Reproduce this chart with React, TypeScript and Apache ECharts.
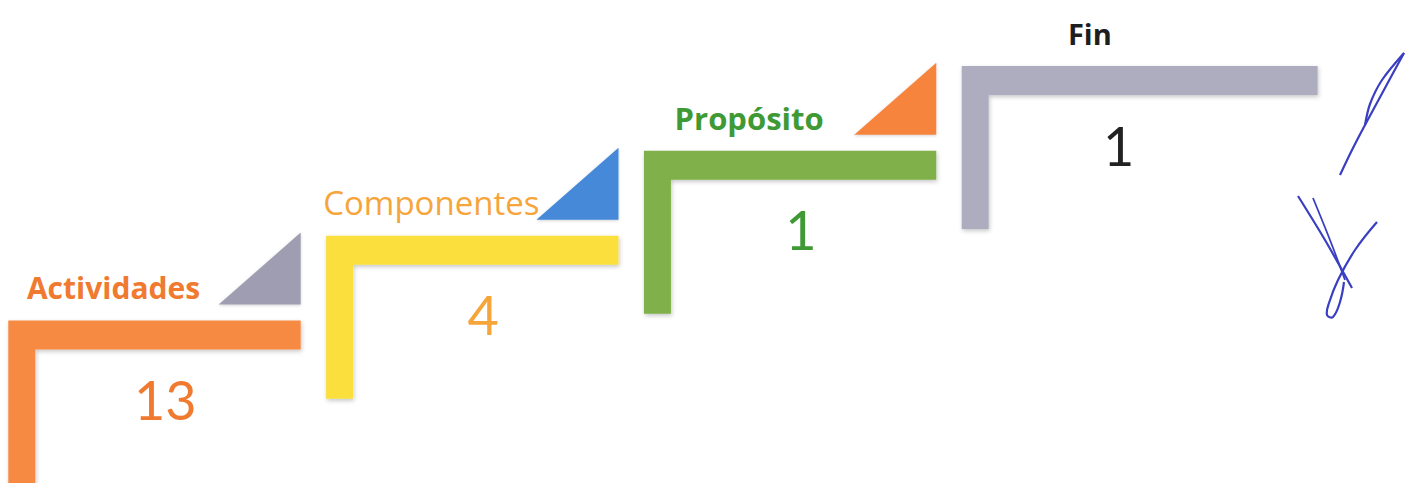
import React, { useEffect, useRef } from "react";
import * as echarts from "echarts";

const categories = ["Actividades", "Componentes", "Propósito", "Fin"];
const values = [13, 4, 1, 1];
const armColors = ["#F78A43", "#FADF3D", "#7FB048", "#AEADBF"];
const triangleColors = ["#9E9DB1", "#4489D8", "#F7843D"];
const labelColors = ["#F07A30", "#F6A53A", "#3F9A35", "#1E1E1E"];
const numberColors = ["#F07A30", "#F6A53A", "#3F9A35", "#222222"];
const labelWeights = ["bold", "normal", "bold", "bold"];
const labelSizes = [30, 33, 31, 29];

export default function App() {
  const ref = useRef<HTMLDivElement>(null);

  useEffect(() => {
    if (!ref.current) return;
    const chart = echarts.init(ref.current, undefined, { renderer: "svg" });

    const renderItem = (params: any, api: any) => {
      const idx = api.value(0);
      const level = api.value(1);
      const val = api.value(2);
      const pt = api.coord([idx, level]);
      const band = api.size([1, 0])[0];
      const start = pt[0] - band / 2;
      const top = pt[1];
      const last = idx === categories.length - 1;
      const armLen = last ? band * 1.12 : band * 0.92;
      const armH = 29;
      const legW = 27;
      const legLen = 163;
      const children: any[] = [];
      children.push({
        type: "polygon",
        shape: {
          points: [
            [start, top],
            [start + armLen, top],
            [start + armLen, top + armH],
            [start + legW, top + armH],
            [start + legW, top + legLen],
            [start, top + legLen],
          ],
        },
        style: {
          fill: armColors[idx],
          shadowColor: "rgba(0,0,0,0.22)",
          shadowBlur: 4,
          shadowOffsetX: 1,
          shadowOffsetY: 2,
        },
      });
      if (!last) {
        const rx = start + armLen;
        const by = top - 16;
        children.push({
          type: "polygon",
          shape: {
            points: [
              [rx - 82, by],
              [rx, by - 72],
              [rx, by],
            ],
          },
          style: {
            fill: triangleColors[idx],
            shadowColor: "rgba(0,0,0,0.18)",
            shadowBlur: 3,
            shadowOffsetY: 1,
          },
        });
      }
      children.push({
        type: "text",
        style: {
          text: categories[idx],
          x: start + armLen * 0.36,
          y: top - 33,
          align: "center",
          verticalAlign: "middle",
          fill: labelColors[idx],
          fontSize: labelSizes[idx],
          fontWeight: labelWeights[idx],
          fontFamily: "Open Sans",
        },
      });
      children.push({
        type: "text",
        style: {
          text: String(val),
          x: start + 157,
          y: top + 79,
          align: "center",
          verticalAlign: "middle",
          fill: numberColors[idx],
          fontSize: 54,
          fontWeight: "normal",
          fontFamily: "Lato",
        },
      });
      return { type: "group", children };
    };

    const sig = { stroke: "#3A3FC2", lineWidth: 2.2, fill: "none" };

    chart.setOption({
      animation: false,
      backgroundColor: "#ffffff",
      grid: { left: 8.3, right: 136.5, top: 66, bottom: 483 - 320.6 },
      xAxis: { type: "category", data: categories, show: false, boundaryGap: true },
      yAxis: { type: "value", min: 0, max: 3, show: false },
      series: [
        {
          type: "custom",
          clip: false,
          renderItem,
          encode: { x: 0, y: 1 },
          data: categories.map((c, i) => [i, i, values[i]]),
        },
      ],
      graphic: [
        { type: "polyline", shape: { points: [[1340, 175], [1352, 150], [1365, 125], [1385, 88], [1404, 53]], smooth: 0.3 }, style: sig },
        { type: "polyline", shape: { points: [[1404, 53], [1382, 80], [1370, 104], [1365, 125]], smooth: 0.3 }, style: sig },
        { type: "polyline", shape: { points: [[1298, 196], [1325, 240], [1352, 288]], smooth: 0.3 }, style: sig },
        { type: "polyline", shape: { points: [[1313, 198], [1330, 240], [1345, 280]], smooth: 0.3 }, style: { ...sig, lineWidth: 1.8 } },
        { type: "polyline", shape: { points: [[1377, 222], [1355, 250], [1338, 280], [1329, 303], [1327, 315], [1333, 317], [1340, 302], [1344, 282]], smooth: 0.4 }, style: sig },
      ],
    });

    return () => chart.dispose();
  }, []);

  return (
    <div
      ref={ref}
      style={{ position: "fixed", left: 0, top: 0, width: 1416, height: 483 }}
    />
  );
}
